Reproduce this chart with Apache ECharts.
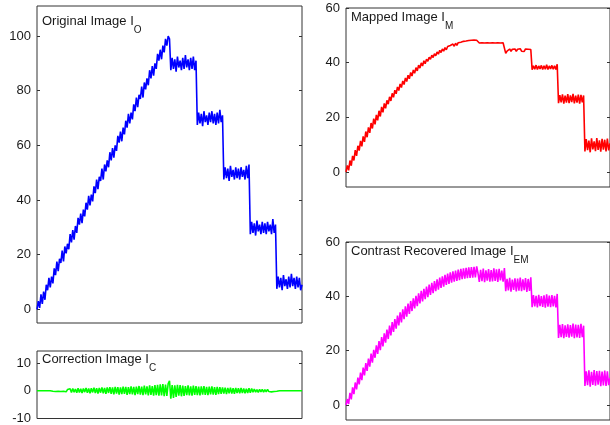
<!DOCTYPE html>
<html>
<head>
<meta charset="utf-8">
<script src="https://cdn.jsdelivr.net/npm/echarts@6/dist/echarts.min.js"></script>
<style>
html,body{margin:0;padding:0;background:#fff;}
#chart{width:610px;height:425px;}
</style>
</head>
<body>
<div id="chart"></div>
<script>
// Original image I_O (sampled every 5 pixels, 201 samples)
const IO = [
0, 3, 0.5, 5.5, 2, 6.5, 3.5, 9, 7, 11.5,
8, 12, 9.5, 15, 12.5, 17.5, 14, 18.5, 17, 21.5,
17.5, 23, 20.5, 24, 22, 27.5, 24.5, 29, 25.5, 30.5,
28, 33.5, 31, 35, 31.5, 36.5, 34, 39, 36.5, 41.5,
38, 42, 39.5, 45, 42.5, 47.5, 44, 48.5, 47, 51.5,
47.5, 53, 50.5, 54.5, 52, 57.5, 54.5, 59, 55.5, 60,
58, 63.5, 61, 65, 61.5, 66.5, 64, 69, 66.5, 71.5,
68, 72, 69.5, 75, 72.5, 77.5, 74, 78.5, 77, 81.5,
77.5, 83, 80.5, 84.5, 82, 87.5, 84.5, 89, 85.5, 90,
88, 93.5, 91, 95, 91.5, 96.5, 94, 99, 96.5, 100,
99, 87.5, 92, 88, 91.5, 87, 92.5, 88.5, 91, 87.5,
92, 88, 93, 88.5, 91.5, 87.5, 92, 88, 92.5, 87.5,
91, 67.5, 72, 68, 71.5, 67, 72.5, 68.5, 71, 67.5,
72, 68.5, 72.5, 68, 71.5, 67.5, 72, 68, 73, 68.5,
71, 47.5, 52, 48, 51.5, 47, 52.5, 48.5, 51, 47.5,
52, 48, 51.5, 47.5, 52, 48.5, 51, 47.5, 52.5, 48,
53, 27.5, 32, 28, 31.5, 27, 32.5, 28.5, 31, 27.5,
32, 28, 31.5, 27.5, 32, 28.5, 31, 27.5, 33, 28,
31, 7.5, 12, 8, 11.5, 7, 12.5, 8.5, 11, 7.5,
12, 8, 13, 8.5, 11.5, 7.5, 12, 8, 11.5, 7,
9
];
// Correction image I_C
const IC = [
0, 0, 0, 0, 0, 0, 0, 0, 0, 0,
0, 0.3, -0.2, 0.3, -0.3, 0.2, -0.2, 0.4, -0.3, 0.3,
-0.2, 0.5, -0.4, 0.4, -0.3, 0.7, -0.6, 0.8, -0.5, 0.6,
-0.7, 0.9, -0.6, 0.7, -0.8, 0.8, -0.5, 1.0, -0.7, 0.8,
-0.9, 0.9, -0.6, 1.1, -0.8, 0.9, -1.0, 1.0, -0.7, 1.2,
-0.9, 1.0, -1.1, 1.2, -0.8, 1.3, -1.1, 1.2, -1.3, 1.4,
-1.0, 1.3, -1.4, 1.2, -1.2, 1.5, -1.1, 1.4, -1.5, 1.3,
-1.2, 1.6, -1.3, 1.4, -1.6, 1.5, -1.2, 1.7, -1.4, 1.5,
-1.6, 1.8, -1.3, 1.6, -1.7, 1.9, -1.5, 1.7, -1.8, 2.0,
-1.6, 2.1, -1.8, 2.3, -1.7, 2.4, -2.0, 2.2, -1.9, 2.6,
3.6, -2.9, 2.0, -2.6, 1.9, -2.2, 2.1, -1.8, 2.0, -2.0,
1.8, -1.9, 1.7, -1.6, 1.9, -1.7, 1.6, -1.8, 1.8, -1.5,
1.7, -1.6, 1.5, -1.7, 1.6, -1.4, 1.7, -1.5, 1.4, -1.6,
1.5, -1.3, 1.6, -1.4, 1.3, -1.5, 1.4, -1.2, 1.3, -1.1,
1.2, -1.0, 1.1, -1.2, 1.0, -0.9, 1.1, -1.0, 0.9, -1.1,
1.0, -0.8, 0.9, -0.9, 1.0, -0.8, 0.8, -0.9, 0.7, -0.8,
0.9, -0.7, 0.8, -0.5, 0.6, -0.5, 0.4, -0.6, 0.5, -0.4,
0.5, -0.5, 0.4, -0.4, 0.5, -0.3, 0.4, -0.4, 0.3, -0.3,
0.3, -0.2, 0.2, 0, 0, 0, 0, 0, 0, 0,
0, 0, 0, 0, 0, 0, 0, 0, 0, 0,
0
];
// Mapped image I_M
const IM = [
0, 2.4, 0.6, 4.2, 2.3, 5.9, 4.2, 8.0, 5.9, 9.6,
7.8, 11.4, 9.4, 13.0, 11.0, 14.8, 12.7, 16.3, 14.3, 17.9,
15.9, 19.5, 17.4, 20.9, 18.9, 22.4, 20.3, 23.8, 21.8, 25.1,
23.3, 26.2, 24.8, 27.5, 26.0, 28.8, 27.3, 29.9, 28.6, 31.1,
29.8, 32.2, 30.9, 33.3, 32.0, 34.4, 33.1, 35.4, 34.1, 36.4,
35.1, 37.3, 36.1, 38.2, 37.0, 39.1, 38.0, 39.9, 38.8, 40.7,
39.6, 41.3, 40.5, 42.0, 41.2, 42.7, 41.9, 43.3, 42.5, 43.9,
43.1, 44.5, 43.7, 45.0, 44.2, 45.5, 44.7, 45.9, 45.2, 46.3,
45.6, 46.8, 46.0, 47.1, 46.3, 47.3, 46.7, 47.5, 46.9, 47.8,
47.1, 47.9, 47.3, 48.1, 47.5, 48.2, 47.6, 48.3, 47.7, 48.2,
48.0, 47.2, 47.8, 47.3, 47.9, 47.2, 47.7, 47.3, 47.8, 47.2,
47.7, 47.3, 47.9, 47.2, 47.8, 47.3, 47.7, 47.2, 47.8, 47.3,
47.6, 43.4, 44.2, 43.6, 45.0, 44.1, 44.9, 44.2, 45.0, 44.1,
44.9, 44.2, 45.1, 44.2, 44.9, 44.1, 45.0, 44.3, 44.9, 44.2,
44.8, 37.4, 38.9, 37.6, 39.1, 37.5, 38.8, 37.7, 39.0, 37.5,
38.9, 37.6, 39.2, 37.5, 38.8, 37.7, 39.0, 37.6, 38.9, 37.5,
39.4, 25.2, 28.1, 25.5, 28.4, 25.0, 27.9, 25.4, 28.5, 25.2,
28.0, 25.6, 28.6, 25.1, 27.9, 25.4, 28.3, 25.0, 28.2, 25.5,
28.0, 7.5, 12.0, 8.0, 11.5, 7.2, 12.3, 8.3, 11.2, 7.6,
12.4, 8.1, 11.6, 7.4, 12.1, 8.2, 11.8, 7.5, 12.2, 7.9,
10.5
];
// Contrast recovered image I_EM
const IEM = [
0, 2.2, 0.4, 4.5, 2.1, 6.5, 4.0, 8.3, 5.8, 10.1,
7.6, 11.9, 9.2, 13.8, 10.9, 15.4, 12.6, 17.1, 14.1, 18.9,
15.6, 20.3, 17.4, 22.0, 18.8, 23.5, 20.2, 25.0, 21.6, 26.4,
23.0, 27.8, 24.3, 29.2, 25.6, 30.5, 26.9, 31.6, 28.1, 32.9,
29.3, 34.1, 30.4, 35.2, 31.6, 36.3, 32.5, 37.3, 33.5, 38.3,
34.6, 39.3, 35.6, 40.2, 36.4, 41.1, 37.4, 42.0, 38.1, 42.8,
39.0, 43.6, 39.7, 44.3, 40.5, 45.0, 41.2, 45.6, 41.9, 46.3,
42.5, 46.9, 43.1, 47.4, 43.6, 47.9, 44.2, 48.4, 44.6, 48.8,
45.0, 49.2, 45.4, 49.5, 45.7, 49.8, 46.0, 50.1, 46.3, 50.3,
46.5, 50.5, 46.7, 50.7, 46.8, 50.8, 46.9, 50.9, 47.0, 51.0,
48.5, 45.3, 49.8, 45.6, 50.2, 45.2, 49.6, 45.8, 50.0, 45.4,
49.7, 45.5, 50.3, 45.7, 49.9, 45.3, 50.1, 45.9, 49.5, 45.4,
50.4, 41.9, 46.4, 42.2, 46.8, 41.7, 46.2, 42.4, 46.6, 41.8,
46.5, 42.1, 46.9, 41.9, 46.3, 42.3, 46.7, 41.6, 46.4, 42.0,
47.0, 36.0, 40.5, 36.3, 40.2, 35.9, 40.6, 36.4, 40.1, 36.1,
40.4, 35.8, 40.7, 36.2, 40.3, 36.0, 40.5, 36.3, 40.2, 35.9,
40.9, 24.7, 29.5, 25.0, 29.8, 24.6, 29.3, 25.1, 29.7, 24.8,
29.4, 25.2, 30.0, 24.6, 29.6, 24.9, 29.5, 24.7, 29.9, 25.0,
29.2, 7.0, 12.4, 7.3, 12.8, 6.8, 12.2, 7.4, 12.9, 7.1,
12.5, 7.5, 12.6, 6.9, 12.3, 7.2, 12.7, 7.0, 12.4, 7.3,
10.0
];
// Tick labels
const ticksIO = [0, 20, 40, 60, 80, 100];
const ticksIC = [-10, 0, 10];
const ticksIM = [0, 20, 40, 60];
const ticksIEM = [0, 20, 40, 60];
// Titles
const titles = [
  ['Original Image I', 'O'],
  ['Correction Image I', 'C'],
  ['Mapped Image I', 'M'],
  ['Contrast Recovered Image I', 'EM']
];

const samples = IO.map(function (_, k) { return String(k); });
const FONT = 'Liberation Sans, Arial, sans-serif';
const TXT = '#1a1a1a';
const FRAME = '#333333';

const grids = [
  { left: 37, top: 6, width: 265, height: 317 },
  { left: 37, top: 351, width: 265, height: 69 },
  { left: 346, top: 8, width: 265, height: 179 },
  { left: 346, top: 242, width: 265, height: 178 }
];
const ranges = [[-5, 111], [-10, 14.3], [-5.5, 60], [-5.5, 60]];
const tickSets = [ticksIO, ticksIC, ticksIM, ticksIEM];
const seriesData = [IO, IC, IM, IEM];
const colors = ['#0000ff', '#00ff00', '#ff0000', '#ff00ff'];
const titlePos = [[42, 15], [42, 353], [351, 11], [351, 245]];

const option = {
  animation: false,
  backgroundColor: '#ffffff',
  grid: grids.map(function (g) {
    return Object.assign({ show: true, borderColor: FRAME, borderWidth: 1, backgroundColor: 'transparent', containLabel: false }, g);
  }),
  title: titles.map(function (t, k) {
    return {
      left: titlePos[k][0], top: titlePos[k][1], padding: 0,
      text: '{a|' + t[0] + '}{b|' + t[1] + '}',
      textStyle: {
        fontWeight: 'normal',
        rich: {
          a: { fontFamily: FONT, fontSize: 13, fontWeight: 'normal', color: TXT, lineHeight: 16, verticalAlign: 'top' },
          b: { fontFamily: FONT, fontSize: 10, fontWeight: 'normal', color: TXT, lineHeight: 12, verticalAlign: 'top', padding: [10, 0, 0, 0] }
        }
      }
    };
  }),
  xAxis: grids.map(function (g, k) {
    return {
      type: 'category', gridIndex: k, data: samples, boundaryGap: false,
      axisLine: { show: false }, axisTick: { show: false }, axisLabel: { show: false }, splitLine: { show: false }
    };
  }),
  yAxis: [],
  series: []
};

grids.forEach(function (g, k) {
  const r = ranges[k];
  option.yAxis.push({
    type: 'value', gridIndex: k, position: 'left', min: r[0], max: r[1],
    axisLine: { show: false },
    axisTick: { show: true, inside: true, length: 3, lineStyle: { color: FRAME, width: 1 }, customValues: tickSets[k] },
    axisLabel: { show: true, margin: 6, fontFamily: FONT, fontSize: 13, color: TXT, customValues: tickSets[k] },
    splitLine: { show: false }
  });
  option.yAxis.push({
    type: 'value', gridIndex: k, position: 'right', min: r[0], max: r[1],
    axisLine: { show: false },
    axisTick: { show: true, inside: true, length: 3, lineStyle: { color: FRAME, width: 1 }, customValues: tickSets[k] },
    axisLabel: { show: false, customValues: tickSets[k] },
    splitLine: { show: false }
  });
  option.series.push({
    type: 'line', xAxisIndex: k, yAxisIndex: 2 * k, data: seriesData[k],
    showSymbol: false, symbol: 'none', silent: true, sampling: null,
    lineStyle: { color: colors[k], width: 1.6, join: 'bevel' }
  });
});

const chart = echarts.init(document.getElementById('chart'), null, { renderer: 'canvas' });
chart.setOption(option);
</script>
</body>
</html>
